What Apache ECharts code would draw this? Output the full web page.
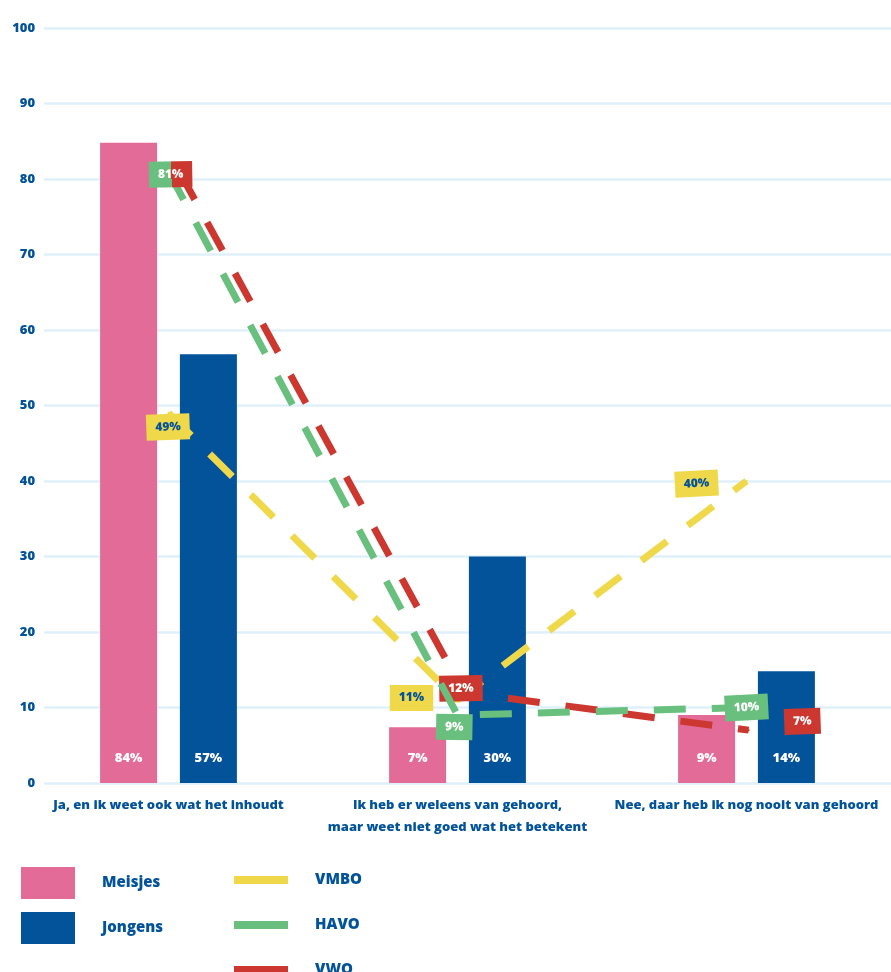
<!DOCTYPE html>
<html>
<head>
<meta charset="utf-8">
<script src="https://cdn.jsdelivr.net/npm/echarts@6/dist/echarts.min.js"></script>
<style>
  html, body { margin: 0; padding: 0; background: #fff; }
  #chart { width: 891px; height: 972px; }
</style>
</head>
<body>
<div id="chart"></div>
<script>
const categories = [
  'Ja, en ik weet ook wat het inhoudt',
  'Ik heb er weleens van gehoord,\nmaar weet niet goed wat het betekent',
  'Nee, daar heb ik nog nooit van gehoord'
];
// bar heights as drawn, and the percentages printed in them
const meisjes = [84.8, 7.4, 9];
const jongens = [56.8, 30, 14.8];
const meisjesLabels = ['84%', '7%', '9%'];
const jongensLabels = ['57%', '30%', '14%'];
const vmbo = [49, 11, 40];
const havo = [81, 9, 10];
const vwo = [81, 12, 7];

const BLUE = '#03539b';
const PINK = '#e36b98';
const YELLOW = '#efd84a';
const GREEN = '#69bf7d';
const RED = '#cc382f';
const GRIDLINE = '#e0f0fb';
const FONT = '"Open Sans", sans-serif';
const WEIGHT = 800;

// tag offset [dx, dy] and tilt for each point, null = no tag
const tagPlace = {
  VMBO: [[-1, 14, 2], [-46, -2, 0], [-50, 0, 3]],
  HAVO: [[2, 3, 1], [-3, 12, -1], [0, 0, 3]],
  VWO: [null, [-3, -4, 1], [54, -7, 2]]
};

// the 81% tag is shared by HAVO and VWO: half green, half red
const sharedTag = new echarts.graphic.LinearGradient(0, 0, 1, 0, [
  { offset: 0, color: GREEN },
  { offset: 0.52, color: GREEN },
  { offset: 0.52, color: RED },
  { offset: 1, color: RED }
]);

function tagged(values, name) {
  return values.map((v, i) => {
    const p = tagPlace[name][i];
    if (!p) return { value: v, label: { show: false } };
    const lab = { offset: [p[0], p[1]], rotate: p[2] };
    if (name === 'HAVO' && i === 0) lab.backgroundColor = sharedTag;
    return { value: v, label: lab };
  });
}

function lineSeries(name, values, color, textColor, z, axis) {
  return {
    name: name,
    type: 'line',
    xAxisIndex: axis,
    yAxisIndex: axis,
    z: z,
    color: color,
    symbol: 'circle',
    symbolSize: 2,
    data: tagged(values, name),
    lineStyle: { color: color, width: 7, type: [32, 26], cap: 'butt' },
    label: {
      show: true,
      position: 'inside',
      formatter: '{c}%',
      backgroundColor: color,
      color: textColor,
      fontFamily: FONT,
      fontWeight: WEIGHT,
      fontSize: 12,
      padding: [7, 9]
    }
  };
}

function barSeries(name, values, labels, color) {
  return {
    name: name,
    type: 'bar',
    xAxisIndex: 1,
    yAxisIndex: 1,
    color: color,
    barWidth: 57,
    barGap: '40%',
    data: values,
    label: {
      show: true,
      position: 'insideBottom',
      distance: 18,
      formatter: p => labels[p.dataIndex],
      color: '#fff',
      fontFamily: FONT,
      fontWeight: WEIGHT,
      fontSize: 13
    }
  };
}

const legendText = {
  color: BLUE,
  fontFamily: FONT,
  fontWeight: WEIGHT,
  fontSize: 15,
  lineHeight: 16,
  padding: [2, 0, 0, 22]
};

const chart = echarts.init(document.getElementById('chart'));
chart.setOption({
  animation: false,
  grid: [
    { left: 44, right: 0, top: 28, bottom: 189 },
    { left: 24, right: -6, top: 28, bottom: 189 },
    // VWO line is drawn a little to the right of the other two
    { left: 37, right: -19, top: 28, bottom: 189 }
  ],
  xAxis: [
    { gridIndex: 0, type: 'value', show: false },
    {
      gridIndex: 1,
      type: 'category',
      data: categories,
      axisLine: { show: false },
      axisTick: { show: false },
      axisLabel: {
        interval: 0,
        margin: 11,
        color: BLUE,
        fontFamily: FONT,
        fontWeight: WEIGHT,
        fontSize: 13,
        lineHeight: 22
      }
    },
    { gridIndex: 2, type: 'category', data: categories, show: false }
  ],
  yAxis: [
    {
      gridIndex: 0,
      type: 'value',
      min: 0,
      max: 100,
      interval: 10,
      axisLine: { show: false },
      axisTick: { show: false },
      axisLabel: { margin: 9, color: BLUE, fontFamily: FONT, fontWeight: WEIGHT, fontSize: 13 },
      splitLine: { lineStyle: { color: GRIDLINE, width: 2.5 } }
    },
    { gridIndex: 1, type: 'value', min: 0, max: 100, show: false },
    { gridIndex: 2, type: 'value', min: 0, max: 100, show: false }
  ],
  legend: [
    {
      data: ['Meisjes', 'Jongens'],
      orient: 'vertical',
      left: 21,
      top: 867,
      height: 150,
      padding: 0,
      icon: 'rect',
      itemWidth: 54,
      itemHeight: 32,
      itemGap: 13,
      selectedMode: false,
      textStyle: legendText
    },
    {
      data: ['VMBO', 'HAVO', 'VWO'],
      orient: 'vertical',
      left: 234,
      top: 871,
      height: 150,
      padding: 0,
      icon: 'rect',
      itemWidth: 54,
      itemHeight: 8,
      itemGap: 27,
      selectedMode: false,
      textStyle: legendText
    }
  ],
  series: [
    barSeries('Meisjes', meisjes, meisjesLabels, PINK),
    barSeries('Jongens', jongens, jongensLabels, BLUE),
    lineSeries('VMBO', vmbo, YELLOW, BLUE, 3, 1),
    lineSeries('VWO', vwo, RED, '#fff', 4, 2),
    lineSeries('HAVO', havo, GREEN, '#fff', 5, 1)
  ]
});
</script>
</body>
</html>
